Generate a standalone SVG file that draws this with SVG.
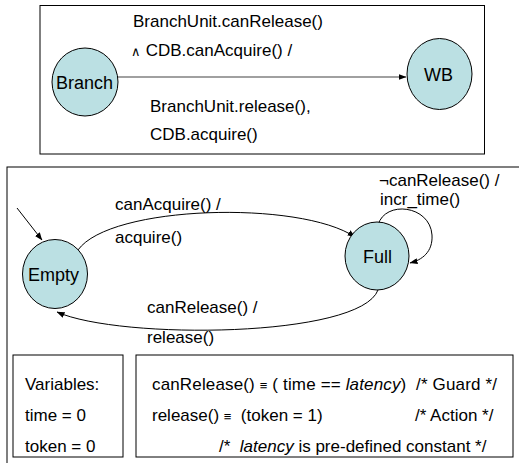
<svg xmlns="http://www.w3.org/2000/svg" width="519" height="463" viewBox="0 0 519 463">
<defs>
<style>
.box{fill:#fff;stroke:#000;stroke-width:1}
.st{fill:#bbe0e3;stroke:#000;stroke-width:1}
.t{font-family:"Liberation Sans",Arial,sans-serif;font-size:17px;fill:#000;white-space:pre}
.n{font-family:"Liberation Sans",Arial,sans-serif;font-size:18px;fill:#000}
.s{font-size:13px}
.e{fill:none;stroke:#000;stroke-width:1}
</style>
<marker id="ah" markerWidth="8" markerHeight="6" refX="7.5" refY="3" orient="auto" markerUnits="userSpaceOnUse">
<path d="M0,0 L8,3 L0,6 Z" fill="#000"/>
</marker>
</defs>
<rect width="519" height="463" fill="#fff"/>
<rect class="box" x="40" y="5.5" width="444.5" height="148.5"/>
<rect class="box" x="7" y="167" width="520" height="320"/>
<rect class="box" x="13" y="355" width="110" height="102"/>
<rect class="box" x="136" y="355" width="377" height="102"/>
<g id="connectors">
<line x1="118" y1="77" x2="406" y2="77" stroke="#808080" stroke-width="1.5" marker-end="url(#ah)"/>
<line x1="17" y1="208" x2="42" y2="240" class="e" marker-end="url(#ah)"/>
<path class="e" d="M78,250 C110,205 300,200 355,237" marker-end="url(#ah)"/>
<path class="e" d="M378,225 C385,200 430,205 432,235 C433,252 422,260 410,263" marker-end="url(#ah)"/>
<path class="e" d="M378,290 C360,338 120,340 57,312" marker-end="url(#ah)"/>
</g>
<g id="branch"><ellipse class="st" cx="85" cy="82" rx="33" ry="34"/><text class="n" x="56" y="89">Branch</text></g>
<g id="wb"><ellipse class="st" cx="439.5" cy="74" rx="32.5" ry="35.5"/><text class="n" x="424" y="81">WB</text></g>
<g id="empty"><ellipse class="st" cx="55" cy="274" rx="32.5" ry="34.5"/><text class="n" x="28" y="281">Empty</text></g>
<g id="full"><ellipse class="st" cx="377" cy="256" rx="32" ry="34"/><text class="n" x="363" y="263">Full</text></g>
<g id="labels">
<text class="t" x="133" y="27">BranchUnit.canRelease()</text>
<text class="t" x="131" y="56"><tspan class="s">∧</tspan> CDB.canAcquire() /</text>
<text class="t" x="150" y="112">BranchUnit.release(),</text>
<text class="t" x="150" y="140">CDB.acquire()</text>
<text class="t" x="115" y="210">canAcquire() /</text>
<text class="t" x="115" y="243">acquire()</text>
<text class="t" x="379" y="186">¬canRelease() /</text>
<text class="t" x="380" y="205">incr_time()</text>
<text class="t" x="147" y="313">canRelease() /</text>
<text class="t" x="147" y="343">release()</text>
<text class="t" x="25" y="390">Variables:</text>
<text class="t" x="25" y="421">time = 0</text>
<text class="t" x="25" y="452">token = 0</text>
<text class="t" x="152" y="390" textLength="345">canRelease() <tspan class="s">≡</tspan> ( time == <tspan font-style="italic">latency</tspan>)  /* Guard */</text>
<text class="t" x="152" y="421">release() <tspan class="s">≡</tspan>  (token = 1)</text>
<text class="t" x="415" y="421">/* Action */</text>
<text class="t" x="219" y="452">/*  <tspan font-style="italic">latency</tspan> is pre-defined constant */</text>
</g>
</svg>
